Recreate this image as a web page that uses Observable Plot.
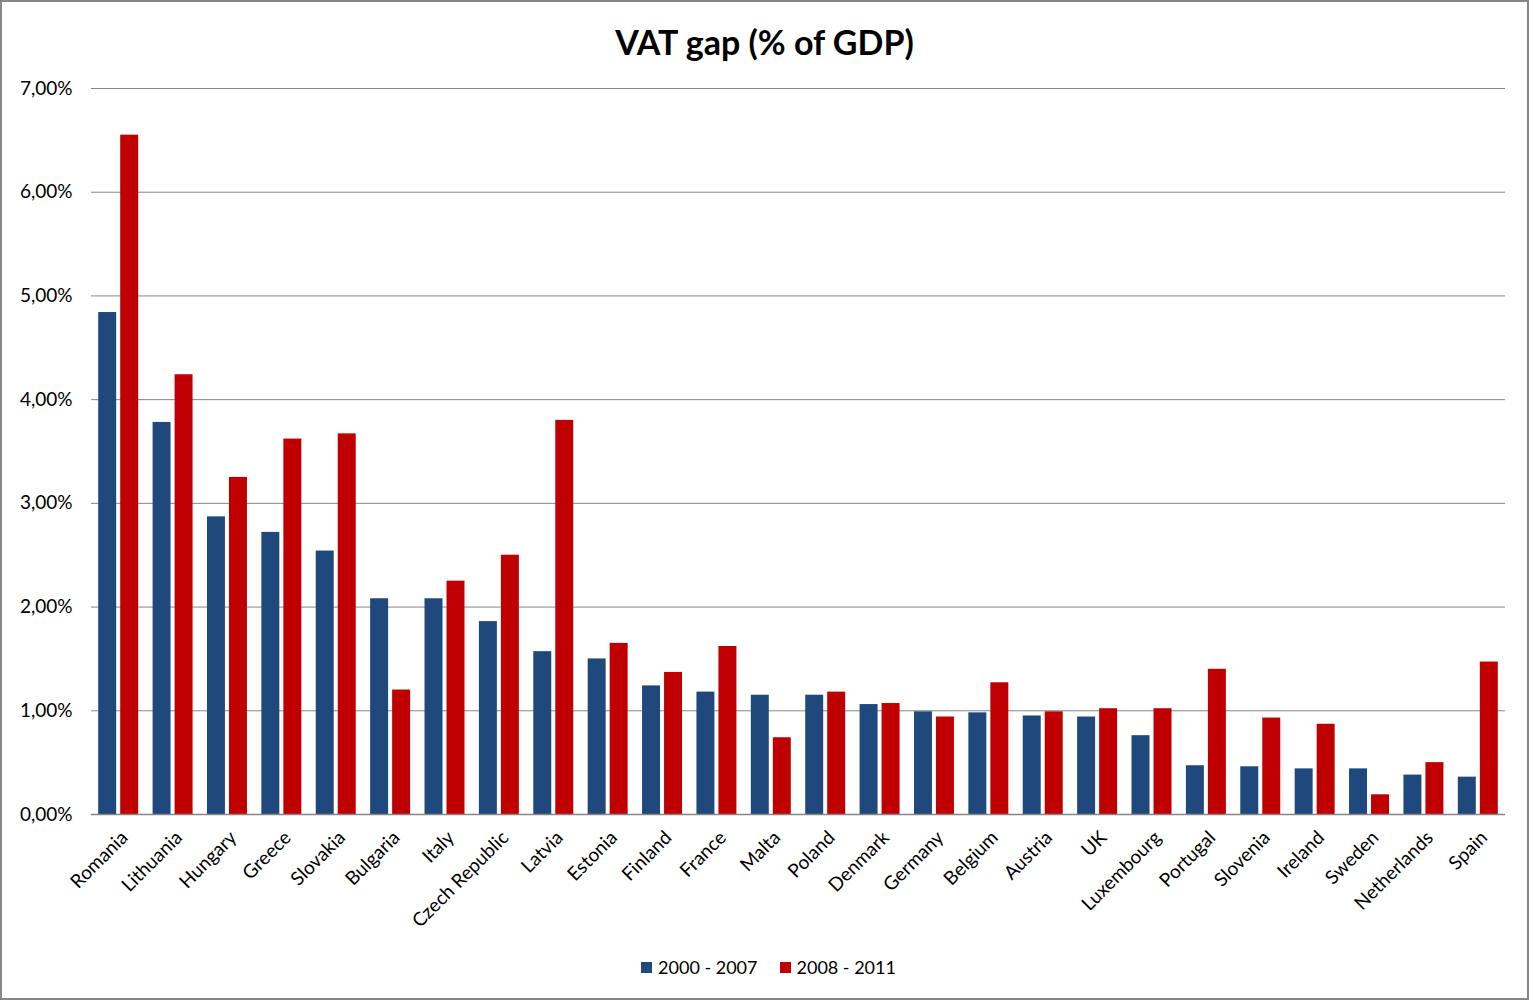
<!DOCTYPE html>
<html>
<head>
<meta charset="utf-8">
<script src="https://cdn.jsdelivr.net/npm/d3@7"></script>
<script src="https://cdn.jsdelivr.net/npm/@observablehq/plot@0.6"></script>
<style>
  body { margin: 0; background: #fff; }
  #chart { position: relative; width: 1529px; height: 1000px; box-sizing: border-box; border: 2px solid #878787; font-family: Lato, "Open Sans", sans-serif; color: #000; background: #fff; }
  #title { height: 60px; box-sizing: border-box; padding-top: 21px; text-align: center; font-weight: bold; font-size: 34px; line-height: 37px; }
  #legend { height: 40px; display: flex; justify-content: center; align-items: center; font-size: 18px; gap: 22px; padding-left: 8px; }
  .item { display: flex; align-items: center; gap: 6px; }
  .sw { width: 11px; height: 11px; display: inline-block; }
  svg { display: block; }
</style>
</head>
<body>
<div id="chart">
  <div id="title">VAT gap (% of GDP)</div>
  <div id="plot"></div>
  <div id="legend"></div>
</div>
<script>
const countries = ["Romania","Lithuania","Hungary","Greece","Slovakia","Bulgaria","Italy","Czech Republic","Latvia","Estonia","Finland","France","Malta","Poland","Denmark","Germany","Belgium","Austria","UK","Luxembourg","Portugal","Slovenia","Ireland","Sweden","Netherlands","Spain"];
const gap2000_2007 = [4.84,3.78,2.87,2.72,2.54,2.08,2.08,1.86,1.57,1.50,1.24,1.18,1.15,1.15,1.06,0.99,0.98,0.95,0.94,0.76,0.47,0.46,0.44,0.44,0.38,0.36];
const gap2008_2011 = [6.55,4.24,3.25,3.62,3.67,1.20,2.25,2.50,3.80,1.65,1.37,1.62,0.74,1.18,1.07,0.94,1.27,0.99,1.02,1.02,1.40,0.93,0.87,0.19,0.50,1.47];
const seriesNames = ["2000 - 2007", "2008 - 2011"];
const seriesColors = ["#1F497D", "#C00000"];
const yTicks = [0,1,2,3,4,5,6,7];

const d1 = countries.map((c, i) => ({country: c, value: gap2000_2007[i]}));
const d2 = countries.map((c, i) => ({country: c, value: gap2008_2011[i]}));

const fmt = d => d.toFixed(2).replace(".", ",") + "%";

const plot = Plot.plot({
  width: 1525,
  height: 885,
  marginTop: 26,
  marginLeft: 89,
  marginRight: 22,
  marginBottom: 133,
  style: {fontFamily: "Lato, 'Open Sans', sans-serif", fontSize: "19px", color: "#000", background: "#fff", overflow: "visible"},
  x: {domain: countries, paddingInner: 0.265, paddingOuter: 0.1325, round: false, label: null},
  y: {domain: [0, 7], label: null},
  marks: [
    Plot.gridY(yTicks, {stroke: "#868686", strokeOpacity: 1, strokeWidth: 1}),
    Plot.barY(d1, {x: "country", y: "value", fill: seriesColors[0], insetRight: 22}),
    Plot.barY(d2, {x: "country", y: "value", fill: seriesColors[1], insetLeft: 22}),
    Plot.ruleY([0], {stroke: "#868686", strokeWidth: 1.5}),
    Plot.axisY({ticks: yTicks, tickFormat: fmt, tickSize: 0, tickPadding: 19, label: null, fontSize: 19}),
    Plot.axisX({tickSize: 0, tickPadding: 20, tickRotate: -45, dx: 6, label: null, fontSize: 19})
  ]
});
document.getElementById("plot").appendChild(plot);

const legend = document.getElementById("legend");
seriesNames.forEach((n, i) => {
  const it = document.createElement("div");
  it.className = "item";
  const sw = document.createElement("span");
  sw.className = "sw";
  sw.style.background = seriesColors[i];
  const t = document.createElement("span");
  t.textContent = n;
  it.appendChild(sw); it.appendChild(t);
  legend.appendChild(it);
});
</script>
</body>
</html>
